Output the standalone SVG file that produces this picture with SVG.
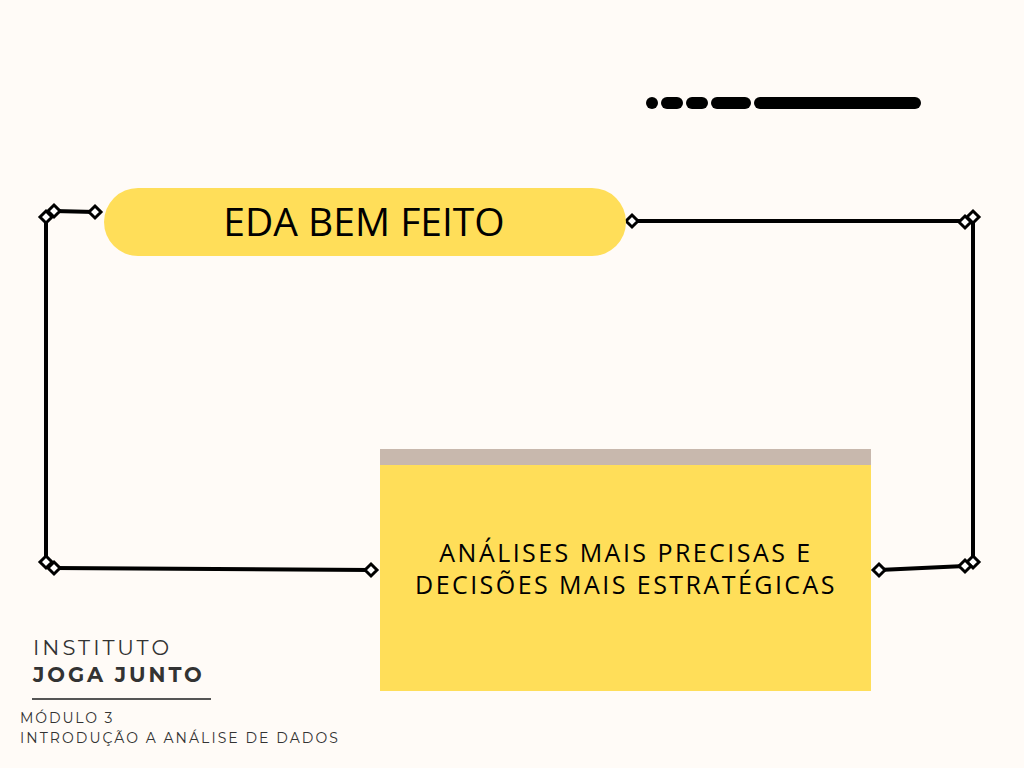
<svg xmlns="http://www.w3.org/2000/svg" width="1024" height="768" viewBox="0 0 1024 768">
<defs>
<style>
.ln{fill:none;stroke:#000;stroke-width:4;stroke-linecap:round}
.dm{fill:#fff;stroke:#000;stroke-width:3}
.dash{fill:#000}
.foot{font-family:Montserrat,"Open Sans","Liberation Sans",sans-serif;fill:#333}
</style>
<path id="d" d="M0,-6 L6,0 L0,6 L-6,0 Z" class="dm"/>
</defs>
<rect width="1024" height="768" fill="#FFFBF7"/>
<g id="dashes">
<circle cx="652" cy="103" r="6" class="dash"/>
<rect x="661" y="97" width="22" height="12" rx="6" class="dash"/>
<rect x="686" y="97" width="22" height="12" rx="6" class="dash"/>
<rect x="711" y="97" width="40" height="12" rx="6" class="dash"/>
<rect x="754" y="97" width="167" height="12" rx="6" class="dash"/>
</g>
<g id="connectors">
<polyline class="ln" points="95,212 54,211"/>
<polyline class="ln" points="46,217 46,562"/>
<polyline class="ln" points="54,568 371,570"/>
<polyline class="ln" points="632,221 965,221"/>
<polyline class="ln" points="973,217 973,562"/>
<polyline class="ln" points="965,566 879,570"/>
<use href="#d" x="95" y="212"/>
<use href="#d" x="46" y="217"/>
<use href="#d" x="54" y="211"/>
<use href="#d" x="46" y="562"/>
<use href="#d" x="54" y="568"/>
<use href="#d" x="371" y="570"/>
<use href="#d" x="632" y="221"/>
<use href="#d" x="965" y="222"/>
<use href="#d" x="973" y="217"/>
<use href="#d" x="973" y="562"/>
<use href="#d" x="965" y="566"/>
<use href="#d" x="879" y="570"/>
</g>
<g id="node-eda">
<rect x="104" y="188" width="522" height="68" rx="34" fill="#FFDE59"/>
<text x="364" y="236" text-anchor="middle" font-family="'Open Sans','Liberation Sans',sans-serif" font-size="39" fill="#000">EDA BEM FEITO</text>
</g>
<g id="node-analises">
<rect x="380" y="449" width="491" height="16" fill="#C8B8AD"/>
<rect x="380" y="465" width="491" height="226" fill="#FFDE59"/>
<text x="626" y="562" text-anchor="middle" font-family="'Open Sans','Liberation Sans',sans-serif" font-size="25" letter-spacing="2.45" fill="#000">ANÁLISES MAIS PRECISAS E</text>
<text x="626" y="594" text-anchor="middle" font-family="'Open Sans','Liberation Sans',sans-serif" font-size="25" letter-spacing="2.45" fill="#000">DECISÕES MAIS ESTRATÉGICAS</text>
</g>
<g id="footer">
<text x="33" y="655" class="foot" font-size="21" letter-spacing="3">INSTITUTO</text>
<text x="33" y="682" class="foot" font-size="21" font-weight="bold" letter-spacing="2.9">JOGA JUNTO</text>
<rect x="32" y="698" width="179" height="2" fill="#555"/>
<text x="20" y="723" class="foot" font-size="14" letter-spacing="1.9">MÓDULO 3</text>
<text x="20" y="743" class="foot" font-size="14" letter-spacing="2.05">INTRODUÇÃO A ANÁLISE DE DADOS</text>
</g>
</svg>
